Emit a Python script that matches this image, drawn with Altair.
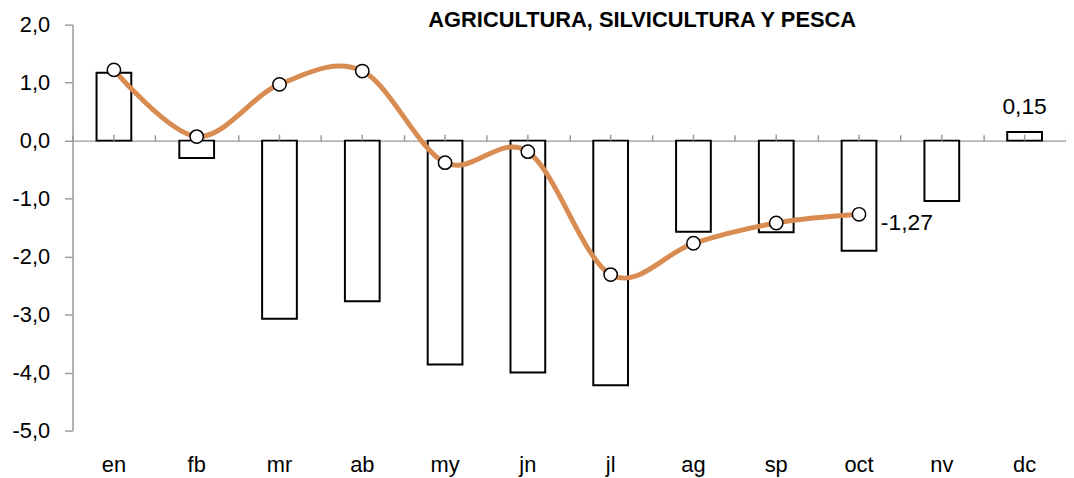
import altair as alt
import pandas as pd

# ---- data ----
months = ["en", "fb", "mr", "ab", "my", "jn", "jl", "ag", "sp", "oct", "nv", "dc"]
bar_values = [1.17, -0.30, -3.07, -2.77, -3.86, -4.00, -4.22, -1.57, -1.58, -1.90, -1.04, 0.15]
line_months = ["en", "fb", "mr", "ab", "my", "jn", "jl", "ag", "sp", "oct"]
line_values = [1.22, 0.07, 0.97, 1.20, -0.38, -0.19, -2.31, -1.77, -1.42, -1.27]
bar_label_months = ["dc"]
bar_label_values = [0.15]
bar_label_texts = ["0,15"]
line_label_months = ["oct"]
line_label_values = [-1.27]
line_label_texts = ["-1,27"]
y_ticks = [-5, -4, -3, -2, -1, 0, 1, 2]
title_text = "AGRICULTURA, SILVICULTURA Y PESCA"

bars_df = pd.DataFrame({"month": months, "value": bar_values})
line_df = pd.DataFrame({"month": line_months, "value": line_values})
bar_lab_df = pd.DataFrame({"month": bar_label_months, "value": bar_label_values, "label": bar_label_texts})
line_lab_df = pd.DataFrame({"month": line_label_months, "value": line_label_values, "label": line_label_texts})
title_df = pd.DataFrame({"t": [title_text]})

GRAY = "#9a9a9a"
ORANGE = "#D98C52"
FONT = "Liberation Sans"
W, H = 1001, 409
zero_px = H * 2 / 7.0

xscale = alt.Scale(domain=months, paddingInner=0, paddingOuter=0)
yscale = alt.Scale(domain=[-5, 2], nice=False, zero=False)

y_enc = alt.Y(
    "value:Q", scale=yscale,
    axis=alt.Axis(
        values=y_ticks, title=None, grid=False, domainColor=GRAY, domainWidth=1.5,
        tickColor=GRAY, tickSize=8, tickWidth=1.5, labelPadding=15, labelFontSize=22,
        labelFont=FONT, labelColor="black",
        labelExpr="replace(replace(format(datum.value, '.1f'), '.', ','), '\u2212', '-')",
    ),
)

x_bottom = alt.X(
    "month:N", sort=months, scale=xscale,
    axis=alt.Axis(orient="bottom", title=None, domain=False, ticks=False, tickSize=0,
                  labelPadding=41, labelBaseline="alphabetic", labelFontSize=22,
                  labelFont=FONT, labelColor="black", labelAngle=0),
)
x_top = alt.X(
    "month:N", sort=months, scale=xscale,
    axis=alt.Axis(orient="top", offset=-zero_px, title=None, labels=False,
                  domainColor=GRAY, domainWidth=1.5, tickColor=GRAY, tickWidth=1.5,
                  tickSize=6, tickBand="extent"),
)

bars = alt.Chart(bars_df).mark_bar(fill="white", stroke="black", strokeWidth=2, size=35).encode(
    x=x_bottom, y=y_enc)

center_ticks = alt.Chart(bars_df).mark_rule(color=GRAY, strokeWidth=1.5, yOffset=-6).encode(
    x=x_bottom, y=alt.datum(0), y2=alt.datum(0))

bar_labels = alt.Chart(bar_lab_df).mark_text(
    font=FONT, fontSize=23, color="black", baseline="alphabetic", align="center", dy=-18
).encode(x=x_bottom, y=y_enc, text="label:N")

title = alt.Chart(title_df).mark_text(
    font=FONT, fontSize=22, fontWeight="bold", color="black", baseline="alphabetic", align="center"
).encode(x=alt.value(574), y=alt.value(2), text="t:N")

group_a = alt.layer(bars, center_ticks, bar_labels, title)

line = alt.Chart(line_df).mark_line(color=ORANGE, strokeWidth=5, interpolate="cardinal").encode(
    x=x_top, y=y_enc)
points = alt.Chart(line_df).mark_circle(size=180, color="white", stroke="black", strokeWidth=1.5, opacity=1).encode(
    x=x_top, y=y_enc)
line_labels = alt.Chart(line_lab_df).mark_text(
    font=FONT, fontSize=23, color="black", baseline="alphabetic", align="left", dx=22, dy=16
).encode(x=x_top, y=y_enc, text="label:N")

group_b = alt.layer(line, points, line_labels)

chart = alt.layer(group_a, group_b).resolve_axis(x="independent").properties(
    width=W, height=H,
    autosize=alt.AutoSizeParams(type="none"),
    padding={"left": 65, "top": 15, "right": 0, "bottom": 46},
    background="white",
).configure_view(stroke=None)

chart.save("out.html", embed_options={"renderer": "svg", "actions": False})
